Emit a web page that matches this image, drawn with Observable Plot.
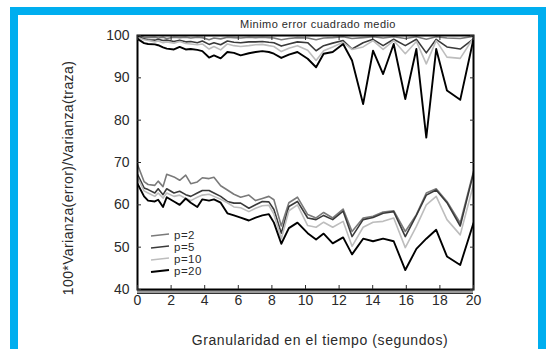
<!DOCTYPE html>
<html><head><meta charset="utf-8">
<script src="https://cdn.jsdelivr.net/npm/d3@7"></script>
<script src="https://cdn.jsdelivr.net/npm/@observablehq/plot@0.6"></script>
<style>
html,body{margin:0;padding:0;background:#fff;}
#wrap{position:relative;width:555px;height:349px;overflow:hidden;font-family:"Liberation Sans",Arial,sans-serif;color:#2a2a2a;}
#frame{position:absolute;left:10px;top:7px;width:536px;height:360px;border:8px solid #00aeef;box-sizing:border-box;}
#plot{position:absolute;left:0;top:0;}
.t{position:absolute;white-space:nowrap;}
#title{left:318px;top:18px;font-size:11px;letter-spacing:0.45px;transform:translateX(-50%);}
#xlabel{left:320px;top:332px;font-size:14px;letter-spacing:0.6px;transform:translateX(-50%);}
#ylabel{left:68px;top:178px;font-size:14px;letter-spacing:0.4px;transform:translate(-50%,-50%) rotate(-90deg);}
#legend{position:absolute;left:150px;top:229px;}
.li{position:relative;height:12px;}
.li svg{position:absolute;left:0;top:3px;}
.li span{position:absolute;left:24px;top:0px;font-size:11.5px;line-height:12px;letter-spacing:0.5px;}
</style></head><body>
<div id="wrap"><div id="frame"></div><div id="plot"></div>
<div class="t" id="title">Minimo error cuadrado medio</div>
<div class="t" id="xlabel">Granularidad en el tiempo (segundos)</div>
<div class="t" id="ylabel">100*Varianza(error)/Varianza(traza)</div>
<div id="legend"></div>
</div>
<script>
const labels = ["p=2", "p=5", "p=10", "p=20"];
const colors = ["#7a7a7a", "#3a3a3a", "#bdbdbd", "#000000"];
const xTicks = [0, 2, 4, 6, 8, 10, 12, 14, 16, 18, 20];
const yTicks = [40, 50, 60, 70, 80, 90, 100];

const xs = [0, 0.39, 0.63, 1.03, 1.23, 1.52, 1.74, 2.17, 2.51, 2.87, 3.17, 3.56, 3.86, 4.26, 4.55, 4.95, 5.35, 5.74, 6.14, 6.63, 7.03, 7.43, 7.82, 8.12, 8.56, 9.01, 9.52, 10.13, 10.63, 11.08, 11.62, 12.24, 12.77, 13.43, 14.02, 14.62, 15.25, 15.94, 16.6, 17.19, 17.78, 18.42, 19.21, 20];

const low2 = [69.5, 65.5, 64.8, 64.6, 65.6, 64.3, 67.2, 66.6, 65.8, 67.0, 65.0, 65.4, 66.4, 66.2, 66.5, 64.5, 63.5, 62.5, 61.8, 62.3, 61.0, 61.5, 62.0, 61.2, 55.0, 60.5, 61.8, 57.7, 56.9, 58.2, 56.9, 59.0, 53.7, 56.9, 57.3, 58.3, 58.6, 53.7, 57.7, 62.8, 63.8, 60.8, 55.7, 67.9];
const low5 = [67.2, 64.0, 63.6, 62.8, 63.8, 62.4, 63.8, 62.8, 63.2, 62.4, 62.0, 62.8, 63.4, 63.4, 62.8, 62.0, 60.8, 60.4, 60.4, 59.2, 60.0, 60.8, 60.7, 58.9, 53.3, 59.6, 60.8, 56.9, 56.5, 57.5, 56.5, 58.5, 52.5, 56.5, 57.0, 58.0, 58.4, 52.5, 57.5, 62.3, 63.5, 60.5, 55.0, 67.5];
const low10 = [66.5, 63.3, 62.8, 62.0, 62.8, 61.6, 62.8, 62.0, 62.3, 61.5, 61.0, 61.8, 62.3, 62.5, 62.0, 61.3, 60.5, 59.5, 59.3, 58.4, 59.2, 59.8, 59.9, 57.8, 52.0, 58.6, 60.0, 55.1, 54.7, 55.9, 54.7, 56.1, 50.2, 54.7, 55.9, 56.1, 56.9, 49.9, 54.9, 60.0, 62.0, 56.5, 52.9, 64.8];
const low20 = [65.0, 62.0, 61.0, 60.8, 61.2, 59.5, 61.8, 60.8, 60.0, 61.5, 60.5, 59.5, 61.3, 61.0, 61.3, 60.5, 58.0, 57.5, 57.0, 56.3, 57.0, 57.5, 57.8, 55.8, 50.8, 54.5, 55.8, 53.3, 51.8, 53.2, 50.9, 52.3, 48.3, 52.0, 51.4, 52.0, 51.4, 44.6, 49.6, 52.0, 54.1, 47.8, 45.8, 55.7];

const up2 = [100, 99.6, 99.5, 99.6, 99.4, 99.6, 99.3, 99.6, 99.5, 99.6, 99.4, 99.6, 99.5, 99.0, 99.4, 99.2, 99.6, 99.5, 99.4, 99.6, 99.5, 99.6, 99.5, 99.4, 99.0, 99.3, 99.5, 99.4, 99.0, 99.4, 99.5, 99.7, 99.3, 99.5, 99.7, 99.4, 99.7, 99.3, 99.7, 99.1, 99.7, 99.4, 99.3, 99.8];
const up5 = [99.8, 99.2, 99.0, 98.9, 99.1, 98.8, 98.9, 98.6, 98.9, 98.5, 98.6, 98.3, 98.7, 97.9, 98.3, 97.8, 98.7, 98.4, 98.3, 98.5, 98.5, 98.6, 98.4, 98.3, 97.5, 98.0, 98.5, 98.3, 96.4, 97.6, 98.2, 98.8, 96.8, 98.3, 99.1, 97.6, 99.1, 97.6, 99.1, 95.9, 99.1, 97.3, 96.8, 99.2];
const up10 = [99.5, 99.0, 98.8, 98.5, 98.7, 98.3, 98.5, 98.2, 98.6, 98.1, 98.0, 97.8, 98.0, 96.8, 97.4, 96.6, 98.0, 97.6, 97.4, 97.6, 97.8, 97.9, 97.6, 97.4, 96.2, 97.0, 97.6, 96.5, 94.1, 96.4, 97.3, 98.4, 96.7, 97.3, 98.8, 96.7, 98.8, 95.7, 98.6, 93.3, 98.8, 94.9, 94.6, 99.5];
const up20 = [99.2, 98.2, 98.0, 97.9, 97.7, 97.2, 96.9, 96.7, 97.3, 96.7, 96.8, 96.6, 96.3, 94.8, 95.3, 94.6, 96.1, 95.9, 95.3, 95.8, 96.1, 96.3, 96.1, 95.7, 94.7, 95.5, 96.1, 94.5, 92.5, 95.7, 96.1, 98.0, 94.1, 83.8, 96.4, 90.9, 98.0, 85.0, 96.8, 75.9, 96.8, 87.0, 84.8, 99.2];

const lowers = [low2, low5, low10, low20];
const uppers = [up2, up5, up10, up20];
const widths = [1.6, 1.6, 1.6, 1.9];

const rows = [];
labels.forEach((p, i) => {
  xs.forEach((x, j) => rows.push({p, part: p + " upper", x, v: uppers[i][j]}));
  xs.forEach((x, j) => rows.push({p, part: p + " lower", x, v: lowers[i][j]}));
});

const lineMarks = labels.map((p, i) =>
  Plot.line(rows.filter(d => d.p === p), {x: "x", y: "v", z: "part", stroke: "p", strokeWidth: widths[i], clip: true})
);

const chart = Plot.plot({
  width: 555, height: 349,
  marginLeft: 137, marginRight: 82, marginTop: 35, marginBottom: 60,
  style: {background: "transparent", fontFamily: "Liberation Sans, Arial, sans-serif", color: "#2a2a2a", overflow: "visible"},
  x: {domain: [0, 20]},
  y: {domain: [40, 100]},
  color: {domain: labels, range: colors},
  marks: [
    ...lineMarks,
    Plot.ruleY([40], {stroke: "#9a9a9a", strokeWidth: 3, dy: 2}),
    Plot.ruleY([40], {stroke: "#333", strokeWidth: 1, dy: 4}),
    Plot.frame({stroke: "#000", strokeWidth: 2}),
    Plot.axisX(xTicks, {anchor: "bottom", tickSize: 0, tickPadding: 6, fontSize: 14, label: null}),
    Plot.axisX(xTicks, {anchor: "bottom", tickSize: -4, tickFormat: () => "", label: null}),
    Plot.axisX(xTicks, {anchor: "top", tickSize: -4, tickFormat: () => "", label: null}),
    Plot.axisY(yTicks, {anchor: "left", tickSize: 0, tickPadding: 8, fontSize: 14, label: null}),
    Plot.axisY(yTicks, {anchor: "left", tickSize: -4, tickFormat: () => "", label: null}),
    Plot.axisY(yTicks, {anchor: "right", tickSize: -4, tickFormat: () => "", label: null})
  ]
});
document.getElementById("plot").appendChild(chart);

const leg = document.getElementById("legend");
labels.forEach((p, i) => {
  const row = document.createElement("div");
  row.className = "li";
  row.innerHTML = `<svg width="20" height="6"><line x1="1" y1="4" x2="19" y2="2" stroke="${colors[i]}" stroke-width="${widths[i]}"/></svg><span>${p}</span>`;
  leg.appendChild(row);
});
</script>
</body></html>
